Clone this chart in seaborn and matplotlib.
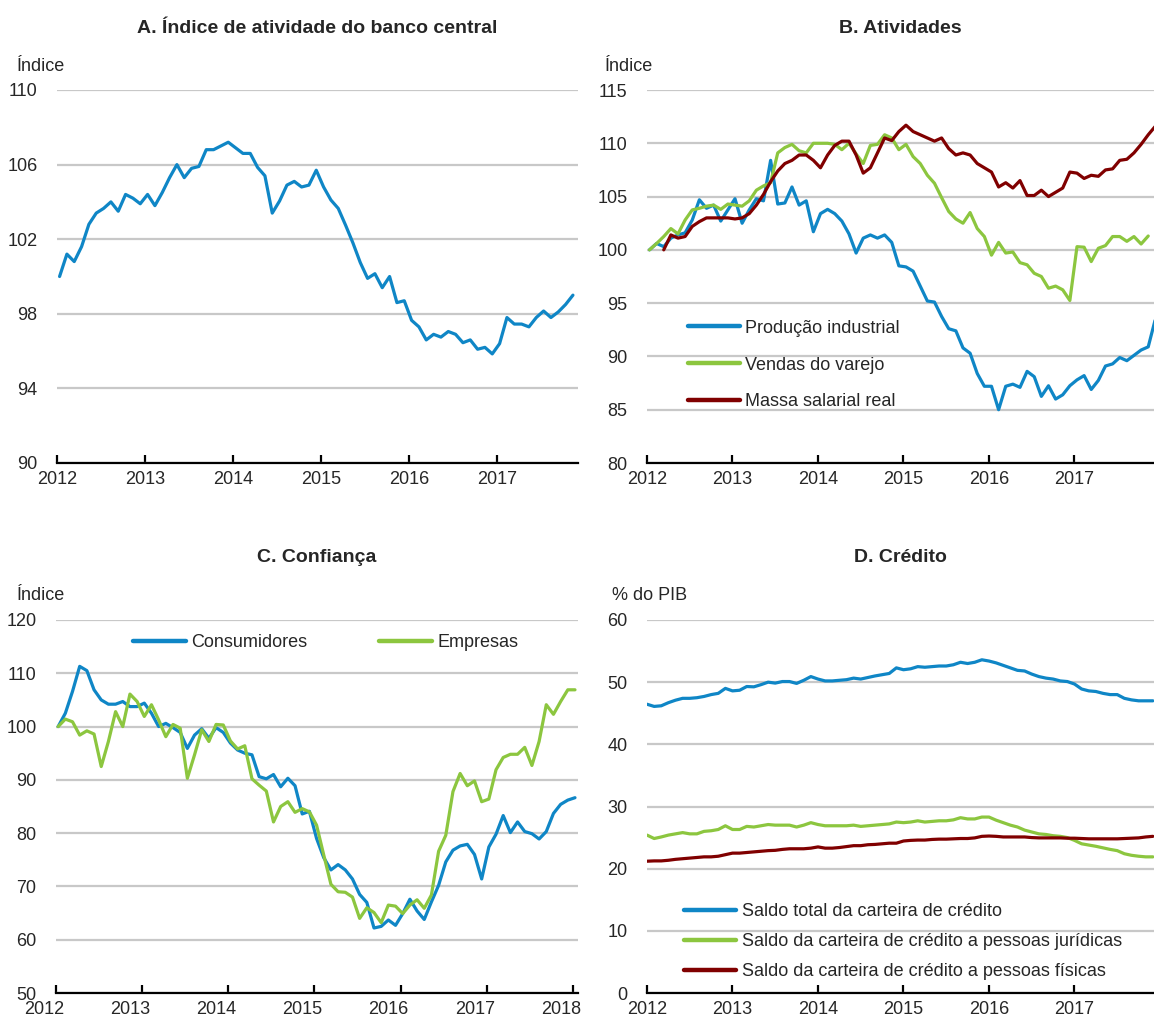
import matplotlib
matplotlib.use('Agg')
import matplotlib.pyplot as plt
import matplotlib.transforms as mtransforms
import seaborn as sns
import numpy as np

# Cores
AZUL = '#0F86C6'
VERDE = '#8CC63F'
VINHO = '#800000'

# A. Índice de atividade do banco central (jan/2012 - nov/2017)
ibc = [100.0, 101.2, 100.8, 101.6, 102.8, 103.4, 103.65, 104.0, 103.5, 104.4, 104.2, 103.9,
       104.4, 103.8, 104.5, 105.3, 106.0, 105.3, 105.8, 105.9, 106.8, 106.8, 107.0, 107.2,
       106.9, 106.6, 106.6, 105.85, 105.4, 103.4, 104.05, 104.9, 105.1, 104.8, 104.9, 105.7,
       104.8, 104.1, 103.65, 102.75, 101.8, 100.75, 99.9, 100.15, 99.4, 100.0, 98.6, 98.7,
       97.65, 97.3, 96.6, 96.9, 96.75, 97.05, 96.9, 96.45, 96.6, 96.1, 96.2, 95.85,
       96.4, 97.8, 97.45, 97.45, 97.3, 97.8, 98.15, 97.8, 98.1, 98.5, 99.0]

# B. Atividades
producao = [100, 100.6, 100.3, 101.1, 101.4, 101.6, 102.8, 104.7, 103.9, 104.2, 102.7, 103.75,
            104.8, 102.5, 103.75, 104.8, 104.6, 108.4, 104.3, 104.4, 105.9, 104.2, 104.6, 101.7,
            103.4, 103.8, 103.4, 102.7, 101.5, 99.7, 101.1, 101.4, 101.1, 101.4, 100.7, 98.5,
            98.4, 98.0, 96.6, 95.2, 95.1, 93.75, 92.6, 92.4, 90.8, 90.3, 88.4, 87.2,
            87.2, 85.0, 87.2, 87.4, 87.1, 88.6, 88.1, 86.25, 87.25, 86.0, 86.4, 87.25,
            87.8, 88.2, 86.9, 87.75, 89.1, 89.3, 89.9, 89.6, 90.1, 90.6, 90.9, 93.5]
varejo = [100, 100.6, 101.25, 102.0, 101.5, 102.8, 103.75, 103.9, 104.1, 104.2, 103.8, 104.3,
          104.2, 104.1, 104.6, 105.6, 106.0, 106.3, 109.1, 109.6, 109.9, 109.3, 109.1, 110.0,
          110.0, 110.0, 109.9, 109.4, 110.0, 109.0, 108.1, 109.8, 109.9, 110.8, 110.5, 109.4,
          109.9, 108.75, 108.1, 107.0, 106.25, 104.9, 103.6, 102.9, 102.5, 103.5, 102.0, 101.25,
          99.5, 100.7, 99.7, 99.8, 98.8, 98.6, 97.8, 97.5, 96.4, 96.6, 96.25, 95.25,
          100.3, 100.25, 98.9, 100.15, 100.4, 101.25, 101.25, 100.8, 101.25, 100.55, 101.3]
# massa salarial começa em mar/2012
massa = [100, 101.4, 101.1, 101.25, 102.2, 102.65, 103.0, 103.0, 103.0, 103.0,
         102.9, 103.0, 103.4, 104.2, 105.2, 106.4, 107.4, 108.1, 108.4, 108.9, 108.9, 108.4,
         107.7, 108.9, 109.8, 110.2, 110.2, 108.9, 107.2, 107.7, 109.1, 110.5, 110.25, 111.1,
         111.7, 111.1, 110.8, 110.5, 110.2, 110.5, 109.5, 108.9, 109.1, 108.9, 108.1, 107.7,
         107.3, 105.9, 106.3, 105.8, 106.5, 105.1, 105.1, 105.6, 105.0, 105.4, 105.8, 107.3,
         107.2, 106.7, 107.0, 106.9, 107.5, 107.6, 108.4, 108.5, 109.1, 109.9, 110.8, 111.6]

# C. Confiança (jan/2012 - jan/2018)
consumidores = [100, 102.5, 106.6, 111.3, 110.5, 106.9, 105.0, 104.2, 104.2, 104.7, 103.75, 103.75,
                104.4, 102.5, 100, 100.6, 99.8, 98.9, 95.9, 98.4, 99.6, 97.8, 99.8, 98.9,
                96.9, 95.6, 95.0, 94.7, 90.6, 90.2, 91.0, 88.7, 90.3, 88.9, 83.6, 84.1,
                79.0, 75.4, 73.1, 74.1, 73.1, 71.4, 68.5, 67.0, 62.2, 62.5, 63.7, 62.7,
                64.9, 67.6, 65.4, 63.8, 67.1, 70.2, 74.6, 76.8, 77.6, 77.9, 76.0, 71.4,
                77.4, 79.8, 83.3, 80.1, 82.1, 80.3, 79.9, 78.9, 80.3, 83.7, 85.4, 86.2,
                86.65]
empresas = [100, 101.4, 100.9, 98.4, 99.2, 98.6, 92.5, 97.2, 102.8, 100, 106.1, 104.7,
            101.9, 104.1, 101.25, 98.1, 100.4, 99.7, 90.3, 94.7, 99.4, 97.2, 100.4, 100.3,
            97.3, 95.8, 96.4, 90.2, 89.0, 87.9, 82.1, 85.0, 85.9, 83.9, 84.6, 84.0,
            81.5, 75.9, 70.4, 69.0, 68.9, 68.0, 64.0, 66.0, 65.1, 63.2, 66.5, 66.3,
            64.9, 66.5, 67.5, 65.9, 68.4, 76.6, 79.6, 87.8, 91.2, 88.9, 89.8, 85.9,
            86.4, 91.9, 94.2, 94.8, 94.8, 96.1, 92.7, 97.2, 104.1, 102.3, 104.7, 106.9,
            106.9]

# D. Crédito (% do PIB)
credito_total = [46.45, 46.1, 46.2, 46.7, 47.1, 47.4, 47.4, 47.5, 47.7, 48.0, 48.2, 49.0,
                 48.6, 48.7, 49.3, 49.25, 49.6, 50.0, 49.85, 50.1, 50.1, 49.8, 50.3, 50.9,
                 50.5, 50.2, 50.2, 50.3, 50.4, 50.65, 50.5, 50.75, 51.0, 51.2, 51.4, 52.3,
                 52.0, 52.15, 52.5, 52.4, 52.5, 52.6, 52.6, 52.8, 53.2, 53.0, 53.2, 53.6,
                 53.4, 53.1, 52.7, 52.3, 51.9, 51.8, 51.3, 50.9, 50.65, 50.5, 50.2, 50.1,
                 49.7, 48.9, 48.6, 48.5, 48.2, 48.0, 48.0, 47.4, 47.15, 47.0, 47.0, 47.0]
credito_pj = [25.4, 24.85, 25.1, 25.4, 25.6, 25.8, 25.6, 25.6, 26.0, 26.1, 26.3, 26.9,
              26.3, 26.3, 26.8, 26.7, 26.9, 27.1, 27.0, 27.0, 27.0, 26.7, 27.0, 27.4,
              27.1, 26.9, 26.9, 26.9, 26.9, 27.0, 26.8, 26.9, 27.0, 27.1, 27.2, 27.5,
              27.4, 27.5, 27.7, 27.5, 27.6, 27.7, 27.7, 27.85, 28.2, 28.0, 28.0, 28.3,
              28.3, 27.8, 27.4, 27.0, 26.7, 26.2, 25.9, 25.6, 25.5, 25.3, 25.2, 25.0,
              24.55, 24.0, 23.8, 23.6, 23.35, 23.1, 22.9, 22.4, 22.15, 22.0, 21.9, 21.9]
credito_pf = [21.2, 21.25, 21.25, 21.35, 21.5, 21.6, 21.7, 21.8, 21.9, 21.9, 22.0, 22.25,
              22.5, 22.5, 22.6, 22.7, 22.8, 22.9, 22.95, 23.1, 23.2, 23.2, 23.2, 23.3,
              23.5, 23.3, 23.3, 23.4, 23.55, 23.7, 23.7, 23.85, 23.9, 24.0, 24.1, 24.1,
              24.45, 24.55, 24.6, 24.6, 24.7, 24.75, 24.75, 24.8, 24.85, 24.85, 24.95, 25.2,
              25.25, 25.2, 25.1, 25.1, 25.1, 25.1, 25.0, 24.95, 24.95, 24.95, 24.95, 24.9,
              24.9, 24.85, 24.8, 24.8, 24.8, 24.8, 24.8, 24.85, 24.9, 24.95, 25.1, 25.2]


def meses(n, inicio=0, desloc=0.35):
    """Converte índice mensal em ano fracionário (jan/2012 = 2012)."""
    return 2012 + (np.arange(inicio, inicio + n) + desloc) / 12


sns.set_style('white')
plt.rcParams['font.family'] = ['Liberation Sans', 'DejaVu Sans']
FS = 13
LW = 2.3

fig = plt.figure(figsize=(11.54, 10.16), dpi=100)
W, H = 1154, 1016


def eixo(l, r, t, b):
    return fig.add_axes([l / W, 1 - b / H, (r - l) / W, (b - t) / H])


def estilo(ax, xlim, ylim, yticks, anos, titulo, unidade, dx_unid):
    ax.set_xlim(xlim)
    ax.set_ylim(ylim)
    ax.set_yticks(yticks)
    ax.set_xticks(anos)
    ax.set_xticklabels([str(a) for a in anos])
    ax.grid(axis='y', color='#c8c8c8', lw=1.6)
    ax.grid(axis='x', visible=False)
    ax.set_axisbelow(True)
    for s in ['left', 'top', 'right']:
        ax.spines[s].set_visible(False)
    ax.spines['bottom'].set_color('black')
    ax.spines['bottom'].set_linewidth(1.6)
    ax.tick_params(axis='x', direction='in', length=6, width=1.6, color='black',
                   pad=6, labelsize=FS, bottom=True)
    ax.tick_params(axis='y', length=0, pad=14, labelsize=FS)
    ax.set_xlabel('')
    ax.set_ylabel('')
    ax.annotate(titulo, xy=(0.5, 1), xycoords='axes fraction', xytext=(0, 62),
                textcoords='offset pixels', ha='center', va='center',
                fontsize=14, fontweight='bold')
    ax.annotate(unidade, xy=(0, 1), xycoords='axes fraction', xytext=(dx_unid, 24),
                textcoords='offset pixels', ha='left', va='center', fontsize=FS)


def legenda(ax, anchor, ncol=1, spacing=0.7, colspacing=2.0):
    leg = ax.legend(loc='upper left', bbox_to_anchor=anchor, frameon=False, ncol=ncol,
                    fontsize=FS, handlelength=2.9, handletextpad=0.3, borderpad=0,
                    borderaxespad=0, labelspacing=spacing, columnspacing=colspacing)
    for h in leg.legend_handles:
        h.set_linewidth(3.2)


# A
axA = eixo(57, 578, 90, 463)
sns.lineplot(x=meses(len(ibc)), y=ibc, ax=axA, color=AZUL, lw=LW)
estilo(axA, (2012, 2017.92), (90, 110), [90, 94, 98, 102, 106, 110],
       range(2012, 2018), 'A. Índice de atividade do banco central', 'Índice', -40)

# B
axB = eixo(647, 1154, 90, 463)
sns.lineplot(x=meses(len(producao)), y=producao, ax=axB, color=AZUL, lw=LW,
             label='Produção industrial')
sns.lineplot(x=meses(len(varejo)), y=varejo, ax=axB, color=VERDE, lw=LW,
             label='Vendas do varejo')
sns.lineplot(x=meses(len(massa), inicio=2), y=massa, ax=axB, color=VINHO, lw=LW,
             label='Massa salarial real')
estilo(axB, (2012, 2017.93), (80, 115), [80, 85, 90, 95, 100, 105, 110, 115],
       range(2012, 2018), 'B. Atividades', 'Índice', -42)
legenda(axB, (0.08, 0.384), spacing=1.1)

# C
axC = eixo(56, 578, 620, 993)
sns.lineplot(x=meses(len(consumidores), desloc=0.3), y=consumidores, ax=axC, color=AZUL,
             lw=LW, label='Consumidores')
sns.lineplot(x=meses(len(empresas), desloc=0.3), y=empresas, ax=axC, color=VERDE,
             lw=LW, label='Empresas')
estilo(axC, (2012, 2018.06), (50, 120), [50, 60, 70, 80, 90, 100, 110, 120],
       range(2012, 2019), 'C. Confiança', 'Índice', -39)
legenda(axC, (0.148, 0.962), ncol=2, colspacing=4.0)
desl = mtransforms.ScaledTranslation(-12 / 100, 0, fig.dpi_scale_trans)
for lbl in axC.get_xticklabels():
    lbl.set_transform(lbl.get_transform() + desl)

# D
axD = eixo(647, 1154, 620, 993)
x_cred = meses(len(credito_total), desloc=0.0)
sns.lineplot(x=x_cred, y=credito_total, ax=axD, color=AZUL, lw=LW,
             label='Saldo total da carteira de crédito')
sns.lineplot(x=x_cred, y=credito_pj, ax=axD, color=VERDE, lw=LW,
             label='Saldo da carteira de crédito a pessoas jurídicas')
sns.lineplot(x=x_cred, y=credito_pf, ax=axD, color=VINHO, lw=LW,
             label='Saldo da carteira de crédito a pessoas físicas')
estilo(axD, (2012, 2017.93), (0, 60), [0, 10, 20, 30, 40, 50, 60],
       range(2012, 2018), 'D. Crédito', '% do PIB', -35)
legenda(axD, (0.073, 0.24), spacing=0.72)

fig.savefig('out.png', dpi=100)
